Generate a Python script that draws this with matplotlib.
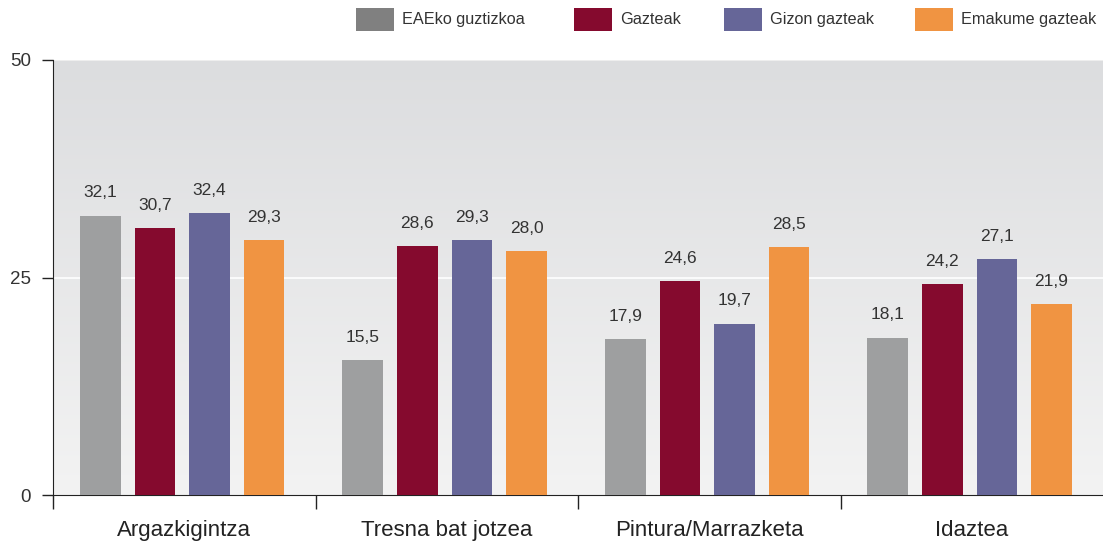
import matplotlib
matplotlib.use("Agg")
import matplotlib.pyplot as plt
import numpy as np
from matplotlib.patches import Rectangle
from matplotlib.colors import LinearSegmentedColormap

plt.rcParams['font.family'] = ['Liberation Sans', 'DejaVu Sans']

categories = ["Argazkigintza", "Tresna bat jotzea", "Pintura/Marrazketa", "Idaztea"]
series_names = ["EAEko guztizkoa", "Gazteak", "Gizon gazteak", "Emakume gazteak"]
eaeko = [32.1, 15.5, 17.9, 18.1]
gazteak = [30.7, 28.6, 24.6, 24.2]
gizon = [32.4, 29.3, 19.7, 27.1]
emakume = [29.3, 28.0, 28.5, 21.9]
series = [eaeko, gazteak, gizon, emakume]
bar_colors = ["#9e9fa0", "#850a2e", "#666698", "#f09442"]
legend_colors = ["#808080", "#850a2e", "#666698", "#f09442"]
yticks = [0, 25, 50]

W, H = 1103, 542
fig = plt.figure(figsize=(W/100, H/100), dpi=100)
ax = fig.add_axes([53/W, 1-495/H, 1-53/W, 435/H])

# gradient background
cmap = LinearSegmentedColormap.from_list("bg", ["#f3f3f3", "#dcdddf"])
grad = np.linspace(0, 1, 256).reshape(-1, 1)
ax.imshow(grad, aspect='auto', cmap=cmap, origin='lower',
          extent=[0, 1, 0, 1], transform=ax.transAxes, zorder=0)

x = np.arange(len(categories))
step = 0.208
width = 0.155
shift = -0.008
for i, (vals, col) in enumerate(zip(series, bar_colors)):
    pos = x + (i - 1.5) * step + shift
    bars = ax.bar(pos, vals, width=width, color=col, zorder=3)
    for b, v in zip(bars, vals):
        ax.annotate(f"{v:.1f}".replace(".", ","),
                    (b.get_x() + b.get_width()/2, v),
                    xytext=(0, 11), textcoords="offset points",
                    ha="center", va="bottom", fontsize=12.5, color="#333333")

ax.set_xlim(-0.5, 3.5)
ax.set_ylim(0, 50)
ax.axhline(25, color="white", lw=1.2, zorder=1)
ax.axhline(50, color="#eeeeee", lw=1.5, zorder=1)

ax.set_yticks(yticks)
ax.set_yticklabels([str(t) for t in yticks], fontsize=13.5, color="#333333")
ax.tick_params(axis='y', length=8, width=1, pad=8, colors="#222222", labelcolor="#333333")

ax.set_xticks([-0.5, 0.5, 1.5, 2.5])
ax.set_xticklabels([])
ax.tick_params(axis='x', length=10, width=1, direction='out', colors="#222222")
ax.set_xticks(x, minor=True)
ax.set_xticklabels(categories, minor=True, fontsize=16, color="#222222")
ax.tick_params(axis='x', which='minor', length=0, pad=18)

for s in ["top", "right"]:
    ax.spines[s].set_visible(False)
ax.spines["left"].set_color("#222222")
ax.spines["bottom"].set_color("#222222")

# legend drawn in figure pixel coordinates
sw_x = [356, 574, 724, 915]
sw_w = 38
sw_y0, sw_y1 = 8, 31
for sx, c, name in zip(sw_x, legend_colors, series_names):
    fig.patches.append(Rectangle((sx/W, 1-sw_y1/H), sw_w/W, (sw_y1-sw_y0)/H,
                                 transform=fig.transFigure, facecolor=c,
                                 edgecolor='none', figure=fig))
    fig.text((sx+sw_w+8)/W, 1-((sw_y0+sw_y1)/2)/H, name, ha="left", va="center",
             fontsize=11.7, color="#333333")

fig.savefig("out.png", dpi=100)
